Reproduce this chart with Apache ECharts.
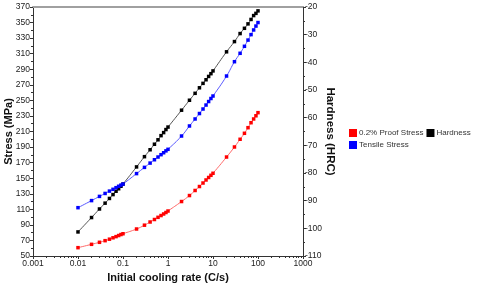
<!DOCTYPE html>
<html>
<head>
<meta charset="utf-8">
<script src="https://cdn.jsdelivr.net/npm/echarts@6/dist/echarts.min.js"></script>
<style>
html, body { margin: 0; padding: 0; background: #fff; }
#main { width: 480px; height: 286px; }
</style>
</head>
<body>
<div id="main"></div>
<script>
// cooling rates (C/s)
var rates = [0.01, 0.02, 0.03, 0.04, 0.05, 0.06, 0.07, 0.08, 0.09,
  0.1, 0.2, 0.3, 0.4, 0.5, 0.6, 0.7, 0.8, 0.9,
  1, 2, 3, 4, 5, 6, 7, 8, 9,
  10, 20, 30, 40, 50, 60, 70, 80, 90,
  100];
var proofStress = [60.7, 65.0, 67.6, 69.7, 71.6, 73.4, 74.9, 76.3, 77.6,
  78.6, 84.7, 89.6, 93.7, 96.9, 99.7, 102.0, 104.0, 105.9,
  107.8, 120.0, 127.7, 134.2, 139.3, 143.8, 147.7, 150.9, 153.7,
  156.3, 177.2, 190.1, 200.0, 207.7, 214.9, 221.3, 226.1, 230.2,
  234.2];
var tensileStress = [112.1, 121.2, 126.6, 130.4, 133.4, 135.7, 137.8, 139.6, 141.1,
  142.5, 155.9, 163.9, 169.4, 173.7, 177.2, 180.2, 182.7, 185.1,
  187.1, 204.2, 217.1, 226.1, 233.1, 238.9, 244.0, 248.5, 252.4,
  255.6, 281.3, 299.7, 310.5, 319.5, 327.5, 334.5, 340.5, 345.5,
  350.0];
var hardness = [-101.3, -96.1, -93.0, -90.9, -89.2, -87.8, -86.6, -85.7, -84.8,
  -84.0, -77.8, -74.1, -71.6, -69.6, -68.0, -66.5, -65.4, -64.3,
  -63.4, -57.3, -53.7, -51.2, -49.2, -47.6, -46.3, -45.1, -44.1,
  -43.1, -36.2, -32.5, -29.6, -27.7, -26.1, -24.5, -23.1, -22.3,
  -21.4];
var xTickLabels = ['0.001', '0.01', '0.1', '1', '10', '100', '1000'];

// minor ticks at 2..9 of each decade (log10 space)
var minorTicks = [];
for (var n = -3; n < 3; n++) {
  for (var k = 2; k < 10; k++) minorTicks.push(n + Math.log10(k));
}

function pairs(ys) {
  return rates.map(function (r, i) { return [Math.log10(r), ys[i]]; });
}

var font = '"Liberation Sans", Arial, sans-serif';
var axisColor = '#333';

var myChart = echarts.init(document.getElementById('main'));
myChart.setOption({
  animation: false,
  backgroundColor: '#fff',
  textStyle: { fontFamily: font },
  grid: { left: 33, right: 177, top: 7, bottom: 30, containLabel: false, outerBoundsMode: 'none' },
  legend: [
    {
      data: ['0.2% Proof Stress', 'Hardness'],
      left: 349, top: 129, padding: 0,
      icon: 'rect', itemWidth: 8, itemHeight: 8, itemGap: 3,
      textStyle: { fontSize: 8, color: '#333', padding: [0, 0, 0, -3] }
    },
    {
      data: ['Tensile Stress'],
      left: 349, top: 141, padding: 0,
      icon: 'rect', itemWidth: 8, itemHeight: 8,
      textStyle: { fontSize: 8, color: '#333', padding: [0, 0, 0, -3] }
    }
  ],
  xAxis: [
    {
      type: 'value', min: -3, max: 3, interval: 1, position: 'bottom',
      axisLine: { onZero: false, lineStyle: { color: axisColor, width: 1 } },
      axisTick: { length: 3, lineStyle: { color: axisColor } },
      axisLabel: {
        fontSize: 8.5, color: '#222', margin: 3,
        formatter: function (v) { return xTickLabels[Math.round(v) + 3]; }
      },
      splitLine: { show: false },
      name: 'Initial cooling rate (C/s)', nameLocation: 'middle', nameGap: 16,
      nameMoveOverlap: false,
      nameTextStyle: { fontSize: 11, fontWeight: 'bold', color: '#111' }
    },
    {
      type: 'value', min: -3, max: 3, position: 'bottom',
      axisLine: { show: false, onZero: false },
      axisTick: { customValues: minorTicks, length: 2, lineStyle: { color: axisColor } },
      axisLabel: { show: false },
      splitLine: { show: false }
    },
    {
      type: 'value', min: -3, max: 3, position: 'top',
      axisLine: { onZero: false, lineStyle: { color: '#a0a0a0', width: 2 } },
      axisTick: { show: false },
      axisLabel: { show: false },
      splitLine: { show: false }
    }
  ],
  yAxis: [
    {
      type: 'value', min: 50, max: 370, interval: 20, position: 'left',
      axisLine: { show: true, onZero: false, lineStyle: { color: axisColor } },
      axisTick: { length: 3, lineStyle: { color: axisColor } },
      minorTick: { show: true, splitNumber: 2, length: 2, lineStyle: { color: axisColor } },
      axisLabel: { fontSize: 8.5, color: '#222', margin: 3 },
      splitLine: { show: false },
      name: 'Stress (MPa)', nameLocation: 'middle', nameGap: 19, nameRotate: 90,
      nameMoveOverlap: false,
      nameTextStyle: { fontSize: 11, fontWeight: 'bold', color: '#111' }
    },
    {
      type: 'value', min: -110, max: -20, interval: 10, position: 'right',
      axisLine: { show: true, onZero: false, lineStyle: { color: axisColor } },
      axisTick: { length: 3, lineStyle: { color: axisColor } },
      minorTick: { show: true, splitNumber: 2, length: 2, lineStyle: { color: axisColor } },
      axisLabel: { fontSize: 8.5, color: '#222', margin: 2 },
      splitLine: { show: false },
      name: 'Hardness (HRC)', nameLocation: 'middle', nameGap: 21, nameRotate: -90,
      nameMoveOverlap: false,
      nameTextStyle: { fontSize: 11.5, fontWeight: 'bold', color: '#111' }
    }
  ],
  series: [
    {
      name: '0.2% Proof Stress', type: 'line', xAxisIndex: 0, yAxisIndex: 0,
      data: pairs(proofStress), smooth: true,
      symbol: 'rect', symbolSize: 3.5,
      itemStyle: { color: '#ff0000' },
      lineStyle: { color: '#ff6a6a', width: 1 }
    },
    {
      name: 'Hardness', type: 'line', xAxisIndex: 0, yAxisIndex: 1,
      data: pairs(hardness), smooth: true,
      symbol: 'rect', symbolSize: 3.5,
      itemStyle: { color: '#000000' },
      lineStyle: { color: '#555555', width: 1 }
    },
    {
      name: 'Tensile Stress', type: 'line', xAxisIndex: 0, yAxisIndex: 0,
      data: pairs(tensileStress), smooth: true,
      symbol: 'rect', symbolSize: 3.5,
      itemStyle: { color: '#0000ff' },
      lineStyle: { color: '#5a5aff', width: 1 }
    }
  ]
});
</script>
</body>
</html>
